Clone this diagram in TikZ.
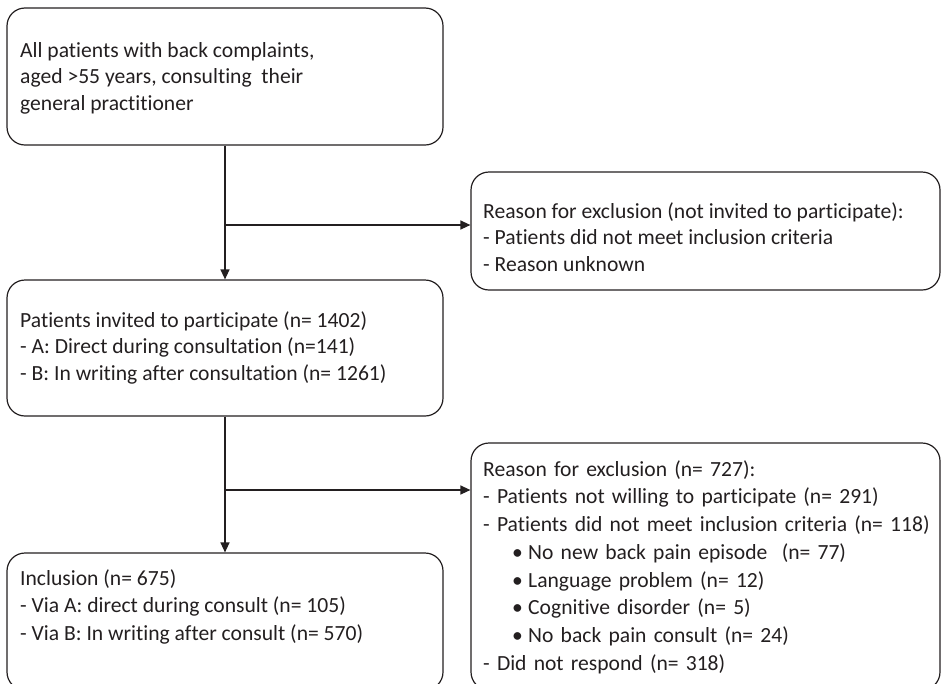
\documentclass[tikz,border=0pt]{standalone}
\usepackage{fontspec}
\setmainfont{Carlito}[Ligatures={NoCommon}]
\usetikzlibrary{arrows.meta,fit}
\definecolor{ink}{HTML}{231F20}
\begin{document}
\begin{tikzpicture}[x=1pt,y=-1pt,
  box/.style={draw=ink, line width=1.2pt, rounded corners=18pt, inner sep=0pt},
  txt/.style={anchor=north west, align=left, inner sep=0pt, text=ink},
  arr/.style={draw=ink, line width=1.3pt, -{Triangle[length=10pt,width=9pt]}},
  bul/.style={}]
\useasboundingbox (0,0) rectangle (944,683);
\node[box, fit={(7,8)(443,145)}] (b1) {};
\node[box, fit={(471,172)(940,290)}] (b2) {};
\node[box, fit={(7,280)(443,416)}] (b3) {};
\node[box, fit={(471,443)(940,690)}] (b4) {};
\node[box, fit={(7,553)(443,690)}] (b5) {};
\node[txt, font=\fontsize{21.6}{26.5}\selectfont] (t1) at (20,38.5) {\strut All patients with back complaints,\\aged >55 years, consulting\ \ their\\general practitioner};
\node[txt, font=\fontsize{21.6}{26.7}\selectfont] (t2) at (483,199.3) {\strut Reason for exclusion (not invited to participate):\\- Patients did not meet inclusion criteria\\- Reason unknown};
\node[txt, font=\fontsize{21.6}{26.5}\selectfont] (t3) at (20,308.5) {\strut Patients invited to participate (n= 1402)\\- A: Direct during consultation (n=141)\\- B: In writing after consultation (n= 1261)};
\node[txt, text width=455pt, font=\fontsize{21.6}{27.7}\selectfont] (t4) at (483,456.6) {\strut Reason for exclusion (n= 727):\\- Patients not willing to participate (n= 291)\\- Patients did not meet inclusion criteria (n= 118)\\
\hspace*{29pt}\makebox[16pt][l]{•}No new back pain episode\ \ (n= 77)\\
\hspace*{29pt}\makebox[16pt][l]{•}Language problem (n= 12)\\
\hspace*{29pt}\makebox[16pt][l]{•}Cognitive disorder (n= 5)\\
\hspace*{29pt}\makebox[16pt][l]{•}No back pain consult (n= 24)\\- Did not respond (n= 318)};
\node[txt, font=\fontsize{21.6}{27.5}\selectfont] (t5) at (20,565.8) {\strut Inclusion (n= 675)\\- Via A: direct during consult (n= 105)\\- Via B: In writing after consult (n= 570)};
\coordinate (j1) at (225,225);
\coordinate (j2) at (225,490);
\draw[arr] (b1.south) -- (b3.north);
\draw[arr] (j1) -- (b2.west |- j1);
\draw[arr] (b3.south) -- (b5.north);
\draw[arr] (j2) -- (b4.west |- j2);
\end{tikzpicture}
\end{document}
